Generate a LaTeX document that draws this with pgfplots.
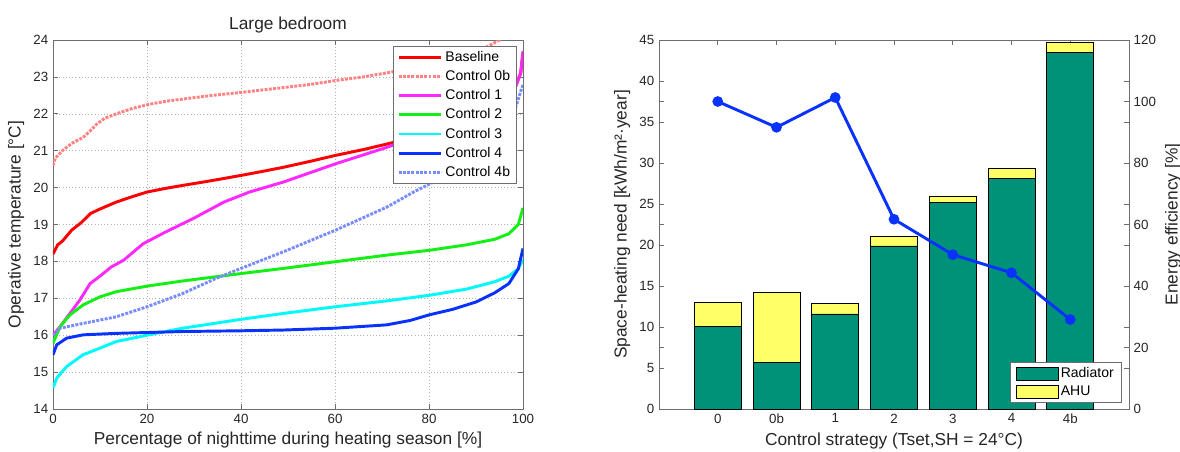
\documentclass[border=0pt]{standalone}
\usepackage{pgfplots}
\pgfplotsset{compat=1.18}
\usepackage{fontspec}
\setmainfont{Liberation Sans}

\definecolor{cBase}{RGB}{255,0,0}
\definecolor{c0b}{RGB}{255,130,130}
\definecolor{c1}{RGB}{255,40,255}
\definecolor{c2}{RGB}{20,240,20}
\definecolor{c3}{RGB}{0,250,250}
\definecolor{c4}{RGB}{10,50,255}
\definecolor{c4b}{RGB}{120,140,255}
\definecolor{rad}{RGB}{0,146,120}
\definecolor{ahu}{RGB}{255,255,102}
\definecolor{axgray}{RGB}{110,110,110}

\pgfplotsset{
  common/.style={
    scale only axis, width=352.5pt, height=276.75pt,
    tick align=inside, major tick length=4pt,
    axis line style={axgray},
    every tick/.style={axgray, line width=0.5pt},
    tick label style={font=\fontsize{10}{12}\selectfont, black!85},
    label style={font=\fontsize{13}{15}\selectfont, black!85},
    /pgf/number format/assume math mode=true,
  }
}

\begin{document}
\begin{tikzpicture}
% ---------------- left: temperature duration curves
\begin{axis}[common, at={(39.75pt,31.5pt)}, anchor=south west,
  xmin=0, xmax=100, ymin=14, ymax=24,
  xtick={0,20,...,100}, ytick={14,15,...,24},
  xtick pos=both, ytick pos=both,
  grid=major, grid style={dotted, gray!60},
  title={Large bedroom}, title style={font=\fontsize{13}{15}\selectfont, black!85, yshift=-4pt},
  xlabel={Percentage of nighttime during heating season [\%]},
  ylabel={Operative temperature [°C]},
  legend cell align=left,
  legend style={at={(1,1)}, anchor=north east, xshift=-4.5pt, yshift=-4.5pt,
    draw=axgray, font=\fontsize{10.5}{12.5}\selectfont, row sep=1.2pt,
    inner xsep=3pt, inner ysep=2pt},
  legend image code/.code={\draw[#1] (0pt,0pt) -- (32pt,0pt);},
]
\addplot[cBase, line width=2.2pt] coordinates {
(0,18.2)(1,18.45)(2,18.55)(4,18.85)(6,19.05)(8,19.3)(10,19.42)(13.5,19.61)(17,19.76)(20,19.88)(24,19.98)(27.6,20.06)(31,20.13)(34.7,20.21)(40,20.33)(45,20.45)(49,20.55)(55,20.72)(60,20.87)(66,21.03)(71,21.18)(76,21.33)(82,21.5)(88,21.7)(93,21.95)(97,22.35)(98,22.6)(99.5,23.1)(100,23.65)};
\addlegendentry{Baseline}
\addplot[c0b, line width=2.2pt, densely dotted] coordinates {
(0,20.6)(0.5,20.8)(2,21.0)(4,21.2)(6.4,21.36)(8,21.55)(9.3,21.72)(11,21.88)(13.5,22.0)(17,22.15)(20.6,22.26)(24,22.34)(27.6,22.4)(34,22.5)(40,22.58)(49,22.71)(55,22.8)(60,22.9)(66,23.0)(71.5,23.12)(78,23.28)(84,23.45)(90,23.65)(95,24.0)(100,24.6)};
\addlegendentry{Control 0b}
\addplot[c1, line width=2.2pt] coordinates {
(0,16.0)(1.5,16.23)(3.6,16.59)(5.7,16.95)(7.9,17.4)(10,17.6)(12.4,17.85)(15,18.03)(19.2,18.48)(24,18.8)(29.8,19.16)(36.4,19.61)(41.8,19.88)(49,20.15)(60,20.64)(71,21.09)(80,21.5)(88,21.85)(94,22.2)(98,22.6)(99.5,23.1)(100,23.7)};
\addlegendentry{Control 1}
\addplot[c2, line width=2.2pt] coordinates {
(0,15.78)(1.5,16.23)(3.6,16.55)(6.4,16.82)(10,17.04)(13.5,17.18)(20,17.33)(27.6,17.47)(40,17.67)(49,17.81)(60,17.99)(71,18.17)(80,18.3)(88,18.45)(94,18.6)(97,18.75)(99,19.0)(100,19.45)};
\addlegendentry{Control 2}
\addplot[c3, line width=2.2pt] coordinates {
(0,14.57)(0.8,14.84)(2.9,15.15)(6.4,15.47)(10,15.65)(13.5,15.83)(20,16.0)(27.6,16.19)(40,16.43)(49,16.59)(60,16.77)(71,16.93)(80,17.08)(88,17.25)(94,17.45)(97,17.6)(99,17.8)(100,18.05)};
\addlegendentry{Control 3}
\addplot[c4, line width=2.2pt] coordinates {
(0,15.47)(0.8,15.74)(2.9,15.92)(6.4,16.01)(13.5,16.05)(27.6,16.1)(40,16.12)(49,16.14)(60,16.19)(71,16.28)(76,16.4)(80,16.55)(85,16.7)(90,16.9)(94,17.15)(97,17.4)(99,17.8)(100,18.35)};
\addlegendentry{Control 4}
\addplot[c4b, line width=2.2pt, densely dotted] coordinates {
(0,16.0)(1.5,16.19)(6.4,16.32)(13.5,16.5)(20,16.77)(27.6,17.13)(34.7,17.54)(40,17.81)(49,18.26)(60,18.84)(71,19.47)(77,19.9)(84,20.34)(90,20.9)(95,21.5)(98,22.0)(100,22.8)};
\addlegendentry{Control 4b}
\end{axis}

% ---------------- right: bars (left y axis)
\begin{axis}[common, at={(494.25pt,31.5pt)}, anchor=south west,
  xmin=-1, xmax=7, ymin=0, ymax=45,
  ybar stacked, bar width=0.8,
  xtick={0,...,6}, xticklabels={0,0b,1,2,3,4,4b},
  xtick pos=both, ytick={0,5,...,45}, ytick pos=both, yticklabel pos=left,
  xlabel={Control strategy (Tset,SH = 24°C)},
  ylabel={Space-heating need [kWh/m²·year]},
  legend cell align=left,
  legend style={at={(1,0)}, anchor=south east, xshift=-5.25pt, yshift=4.5pt,
    draw=axgray, font=\fontsize{10.5}{12.5}\selectfont, inner xsep=4pt, inner ysep=2pt, row sep=0.5pt},
]
\addplot[fill=rad, draw=black, line width=0.4pt,
  legend image code/.code={\draw[fill=rad, draw=black, line width=0.4pt] (0pt,-4.7pt) rectangle (31.5pt,4.7pt);}]
  coordinates {(0,10.05)(1,5.67)(2,11.6)(3,19.9)(4,25.2)(5,28.15)(6,43.5)};
\addlegendentry{Radiator}
\addplot[fill=ahu, draw=black, line width=0.4pt,
  legend image code/.code={\draw[fill=ahu, draw=black, line width=0.4pt] (0pt,-4.7pt) rectangle (31.5pt,4.7pt);}]
  coordinates {(0,2.95)(1,8.55)(2,1.3)(3,1.2)(4,0.8)(5,1.25)(6,1.25)};
\addlegendentry{AHU}
\end{axis}

% ---------------- right: efficiency (right y axis)
\begin{axis}[common, at={(494.25pt,31.5pt)}, anchor=south west,
  xmin=-1, xmax=7, ymin=0, ymax=120,
  hide x axis,
  ytick={0,20,...,120}, ytick pos=both, yticklabel pos=right,
  ylabel near ticks,
  ylabel={Energy efficiency [\%]},
  ylabel style={font=\fontsize{13}{15}\selectfont, black!85},
]
\addplot[c4, line width=2.2pt, mark=*, mark size=3.5pt, mark options={fill=c4, line width=1pt}]
  coordinates {(0,100)(1,91.6)(2,101.3)(3,61.7)(4,50.2)(5,44.3)(6,29.1)};
\end{axis}

\pgfresetboundingbox
\path (0,0) rectangle (885pt,338.25pt);
\end{tikzpicture}
\end{document}
